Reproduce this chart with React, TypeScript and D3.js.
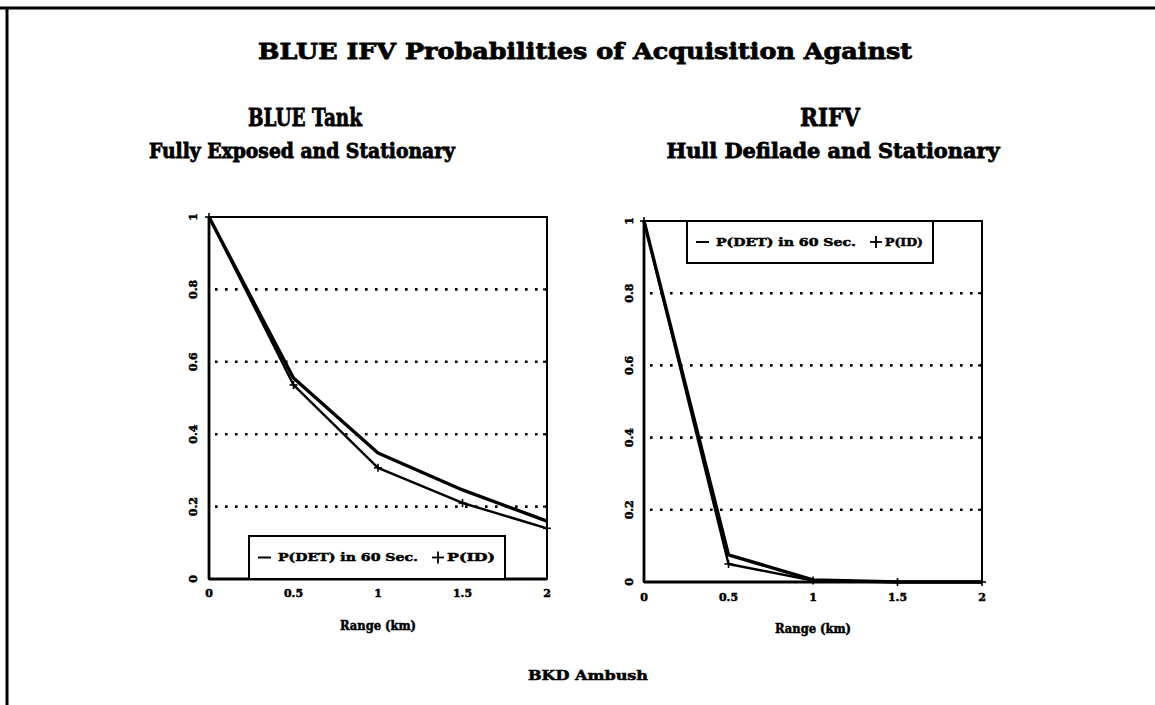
import React from "react";
import * as d3 from "d3";

const rangeKm = [0, 0.5, 1, 1.5, 2];
const tankDet = [1, 0.555, 0.348, 0.246, 0.16];
const tankId = [1, 0.536, 0.307, 0.21, 0.14];
const rifvDet = [1, 0.075, 0.006, 0, 0];
const rifvId = [1, 0.05, 0.004, 0, 0];
const xTicks = [0, 0.5, 1, 1.5, 2];
const xTickLabels = ["0", "0.5", "1", "1.5", "2"];
const yTicks = [0, 0.2, 0.4, 0.6, 0.8, 1];
const yTickLabels = ["0", "0.2", "0.4", "0.6", "0.8", "1"];
const gridValues = [0.2, 0.4, 0.6, 0.8];
const mainTitle = "BLUE IFV Probabilities of Acquisition Against";
const legendDet = "P(DET) in 60 Sec.";
const legendId = "P(ID)";
const xAxisTitle = "Range (km)";
const footer = "BKD Ambush";

const FONT = "'DejaVu Serif', serif";

type PanelProps = {
  x0: number; x1: number; yTop: number; yBot: number;
  det: number[]; id: number[];
  legend: { x: number; y: number; w: number; h: number };
  tickY: number; titleY: number; labelX: number;
};

const bold = { fontFamily: FONT, fontWeight: "bold" as const, stroke: "#000", strokeWidth: 0.5 };

function Panel(p: PanelProps) {
  const x = d3.scaleLinear().domain([0, 2]).range([p.x0, p.x1]);
  const y = d3.scaleLinear().domain([0, 1]).range([p.yBot, p.yTop]);
  const line = d3.line<number>().x((_, i) => x(rangeKm[i])).y((d) => y(d));
  const lg = p.legend;
  const ly = lg.y + lg.h / 2;
  return (
    <g>
      {gridValues.map((g) => (
        <g key={g}>
          <line x1={p.x0 + 6} x2={p.x1} y1={y(g)} y2={y(g)} stroke="#000" strokeWidth={2.6}
            strokeDasharray="2.6 7.4" />
          <line x1={p.x1 - 4} x2={p.x1} y1={y(g)} y2={y(g)} stroke="#000" strokeWidth={2} />
        </g>
      ))}
      <rect x={p.x0} y={p.yTop} width={p.x1 - p.x0} height={p.yBot - p.yTop} fill="none" stroke="#000" strokeWidth={2} />
      <line x1={p.x0} x2={p.x0} y1={p.yTop} y2={p.yBot} stroke="#000" strokeWidth={2.8} />
      <line x1={p.x0} x2={p.x1} y1={p.yBot} y2={p.yBot} stroke="#000" strokeWidth={2.8} />
      <path d={line(p.det) || ""} fill="none" stroke="#000" strokeWidth={3.4} strokeLinejoin="round" />
      <path d={line(p.id) || ""} fill="none" stroke="#000" strokeWidth={2.4} strokeLinejoin="round" />
      {p.id.map((v, i) => (
        <g key={i} stroke="#000" strokeWidth={1.6}>
          <line x1={x(rangeKm[i]) - 4} x2={x(rangeKm[i]) + 4} y1={y(v)} y2={y(v)} />
          <line x1={x(rangeKm[i])} x2={x(rangeKm[i])} y1={y(v) - 4} y2={y(v) + 4} />
        </g>
      ))}
      {yTicks.map((t, i) => (
        <text key={t} transform={`translate(${p.labelX},${y(t)}) rotate(-90)`} textAnchor="middle"
          dominantBaseline="central" {...bold} fontSize={11}>{yTickLabels[i]}</text>
      ))}
      {xTicks.map((t, i) => (
        <text key={t} x={x(t)} y={p.tickY} textAnchor="middle" {...bold} fontSize={11}>
          {xTickLabels[i]}</text>
      ))}
      <text x={(p.x0 + p.x1) / 2} y={p.titleY} textAnchor="middle" {...bold} fontSize={12}
        textLength={76} lengthAdjust="spacingAndGlyphs">{xAxisTitle}</text>
      <rect x={lg.x} y={lg.y} width={lg.w} height={lg.h} fill="#fff" stroke="#000" strokeWidth={2} />
      <line x1={lg.x + 9} x2={lg.x + 22} y1={ly} y2={ly} stroke="#000" strokeWidth={2} />
      <text x={lg.x + 29} y={ly} dominantBaseline="central" {...bold} fontSize={11}
        textLength={140} lengthAdjust="spacingAndGlyphs">{legendDet}</text>
      <line x1={lg.x + 183} x2={lg.x + 195} y1={ly} y2={ly} stroke="#000" strokeWidth={1.8} />
      <line x1={lg.x + 189} x2={lg.x + 189} y1={ly - 6} y2={ly + 6} stroke="#000" strokeWidth={1.8} />
      <text x={lg.x + 198} y={ly} dominantBaseline="central" {...bold} fontSize={11}
        textLength={lg.w - 208} lengthAdjust="spacingAndGlyphs">{legendId}</text>
    </g>
  );
}

export default function App() {
  const h = { fontFamily: FONT, fontWeight: "bold" as const, stroke: "#000", strokeWidth: 0.8,
    textAnchor: "middle" as const, lengthAdjust: "spacingAndGlyphs" };
  return (
    <svg width={1155} height={705} style={{ position: "absolute", left: 0, top: 0, background: "#fff" }}>
      <rect x={0} y={0} width={1155} height={705} fill="#fff" />
      <line x1={0} x2={1155} y1={8} y2={8} stroke="#000" strokeWidth={3} />
      <line x1={7} x2={7} y1={7} y2={705} stroke="#000" strokeWidth={3} />
      <text x={585} y={59} {...h} fontSize={23} textLength={654}>{mainTitle}</text>
      <text x={305} y={126} {...h} fontSize={25} textLength={114}>BLUE Tank</text>
      <text x={302} y={158} {...h} fontSize={20} textLength={306}>Fully Exposed and Stationary</text>
      <text x={830} y={126} {...h} fontSize={25} textLength={60}>RIFV</text>
      <text x={833} y={158} {...h} fontSize={20} textLength={333}>Hull Defilade and Stationary</text>
      <Panel x0={209} x1={547} yTop={217} yBot={579} det={tankDet} id={tankId}
        legend={{ x: 249, y: 536, w: 256, h: 43 }} tickY={597} titleY={630} labelX={193} />
      <Panel x0={644} x1={982} yTop={221} yBot={582} det={rifvDet} id={rifvId}
        legend={{ x: 687, y: 221, w: 246, h: 42 }} tickY={601} titleY={633} labelX={629} />
      <text x={588} y={680} {...h} strokeWidth={0.5} fontSize={12} textLength={120}>{footer}</text>
    </svg>
  );
}
